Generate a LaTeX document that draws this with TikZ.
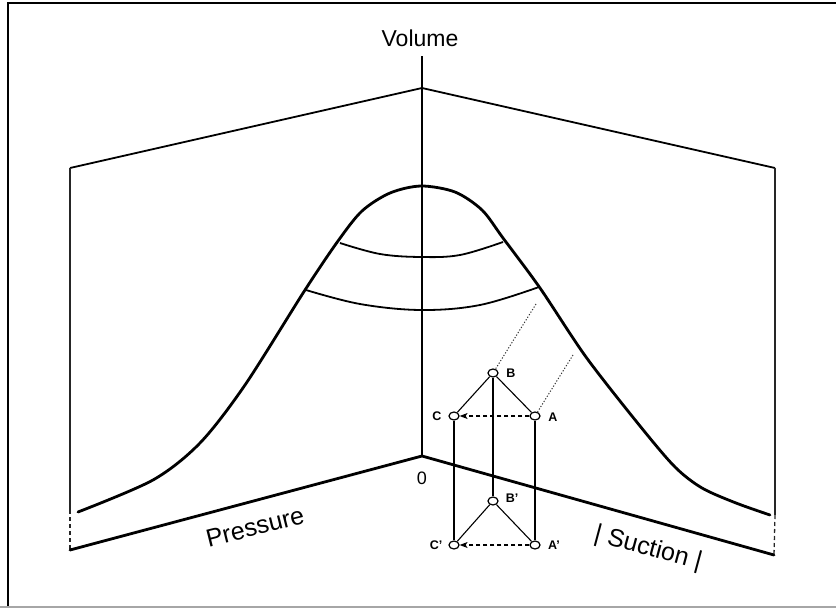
\documentclass[tikz,border=0pt]{standalone}
\usepackage{fontspec}
\setmainfont{Liberation Sans}
\usetikzlibrary{shapes.geometric,arrows.meta}
\begin{document}
\begin{tikzpicture}[x=1pt,y=-1pt,
  pt/.style={ellipse,draw,fill=white,line width=1.2pt,minimum width=10pt,minimum height=8pt,inner sep=0pt},
  lbl/.style={font=\fontsize{12.5}{12.5}\selectfont\bfseries,inner sep=0pt},
  thinline/.style={line width=1.1pt},
  dasharrow/.style={line width=1.2pt,dash pattern=on 4pt off 3pt,-{Stealth[length=8pt,width=6pt,inset=2pt]}},
  dotl/.style={line width=1pt,dash pattern=on 1.2pt off 1.8pt,black!80},
  wall/.style={line width=1.8pt,line join=round},
  side/.style={line width=1.3pt,black!85},
  bell/.style={line width=2.8pt,line join=round,line cap=round},
  arcl/.style={line width=1.8pt},
  floorl/.style={line width=2.8pt,line join=round,line cap=round}]
\useasboundingbox (0,0) rectangle (836,608);
% frame
\draw[line width=2.4pt] (8,606) -- (8,3) -- (836,3);
\draw[line width=2pt,black!35] (0,606.5) -- (836,606.5);
% key coordinates
\coordinate (O) at (422,456);
\coordinate (T) at (422,88);
\coordinate (TL) at (70,168);
\coordinate (TR) at (775,168);
\coordinate (FL) at (70,550);
\coordinate (FR) at (774,555);
\coordinate (VT) at (422,56);
% walls
\draw[wall] (TL) -- (T) -- (TR);
\draw[side] (TL) -- (70,510);
\draw[side,dash pattern=on 4pt off 3pt] (70,510) -- (FL);
\draw[side] (TR) -- (775,515);
\draw[side,dash pattern=on 4pt off 3pt] (775,515) -- (FR);
% axis
\draw[line width=2pt] (VT) -- (O);
% floor
\draw[floorl] (FL) -- (O) -- (FR);
% bell curve
\draw[bell] plot[smooth,tension=0.5] coordinates {
 (78,512) (153,480) (200,443) (245,385) (305,290) (338,241) (362,211)
 (390,193) (421,186) (455,192) (482,210) (503,238) (540,288) (586,357)
 (640,426) (675,467) (702,488) (736,503) (770,515)};
% arcs
\draw[arcl] plot[smooth,tension=0.6] coordinates {(340,243) (380,254) (421,257) (460,255) (503,242)};
\draw[arcl] plot[smooth,tension=0.6] coordinates {(306,290) (360,304) (421,310) (480,305) (539,287)};
% nodes
\node[pt] (B) at (493,373) {};
\node[pt] (C) at (454,416) {};
\node[pt] (A) at (535,416) {};
\node[pt] (B2) at (493,501) {};
\node[pt] (C2) at (454,545) {};
\node[pt] (A2) at (535,545) {};
\coordinate (d1) at (536,304);
\coordinate (d2) at (573,355);
\draw[dotl] (d1) -- (B);
\draw[dotl] (d2) -- (A);
\draw[thinline] (B) -- (C);
\draw[thinline] (B) -- (A);
\draw[thinline] (B) -- (B2);
\draw[thinline] (C) -- (C2);
\draw[thinline] (A) -- (A2);
\draw[thinline] (B2) -- (C2);
\draw[thinline] (B2) -- (A2);
\draw[dasharrow] (A) -- (C);
\draw[dasharrow] (A2) -- (C2);
% labels
\node[lbl] (lB) at (511,373) {B};
\node[lbl] (lC) at (437,416) {C};
\node[lbl] (lA) at (553,417) {A};
\node[lbl] (lB2) at (512,498) {B'};
\node[lbl] (lC2) at (436,545) {C'};
\node[lbl] (lA2) at (554,545) {A'};
\node[font=\fontsize{23}{23}\selectfont,inner sep=0pt] (vol) at (420,38) {Volume};
\node[font=\fontsize{18}{18}\selectfont,inner sep=0pt] (zero) at (422,478) {0};
\node[font=\fontsize{25}{25}\selectfont,inner sep=0pt,rotate=14] (pres) at (255,527) {Pressure};
\node[font=\fontsize{25}{25}\selectfont,inner sep=0pt,rotate=-15] (suc) at (648,549) {| Suction |};
\end{tikzpicture}
\end{document}
